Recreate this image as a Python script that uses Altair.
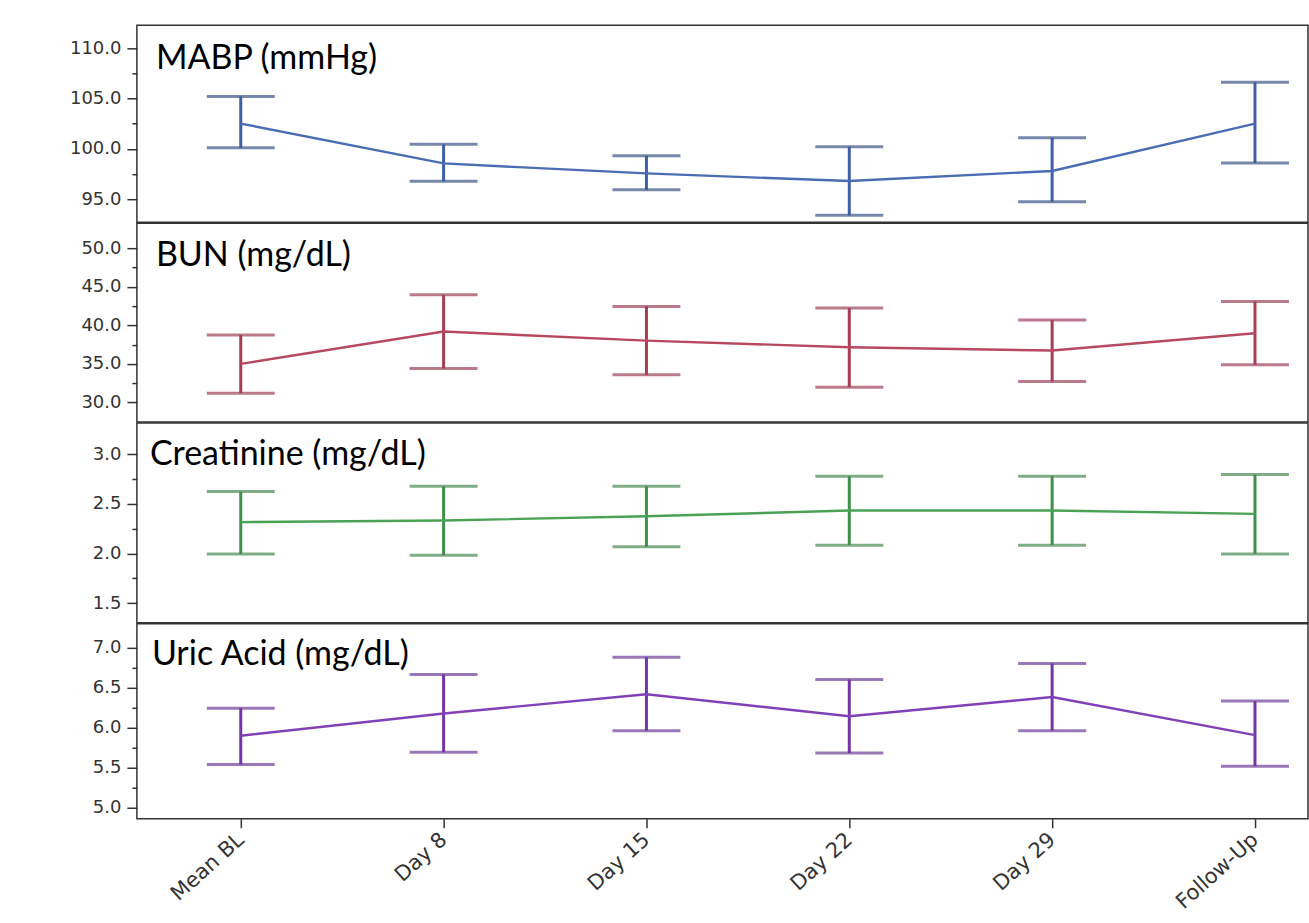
import json
import altair as alt
import pandas as pd

categories = ["Mean BL", "Day 8", "Day 15", "Day 22", "Day 29", "Follow-Up"]

mabp_mean = [102.5, 98.55, 97.56, 96.8, 97.8, 102.5]
mabp_lo = [100.1, 96.77, 95.94, 93.4, 94.75, 98.6]
mabp_hi = [105.2, 100.44, 99.3, 100.2, 101.1, 106.6]

bun_mean = [35.0, 39.19, 38.02, 37.15, 36.73, 38.97]
bun_lo = [31.2, 34.4, 33.58, 31.98, 32.72, 34.88]
bun_hi = [38.76, 43.97, 42.46, 42.25, 40.70, 43.1]

creat_mean = [2.316, 2.333, 2.376, 2.433, 2.433, 2.40]
creat_lo = [1.995, 1.983, 2.067, 2.084, 2.084, 1.996]
creat_hi = [2.625, 2.678, 2.678, 2.78, 2.78, 2.796]

uric_mean = [5.897, 6.174, 6.415, 6.14, 6.38, 5.905]
uric_lo = [5.537, 5.69, 5.96, 5.68, 5.96, 5.515]
uric_hi = [6.24, 6.663, 6.878, 6.60, 6.80, 6.33]

mabp_ticks = [95, 97.5, 100, 102.5, 105, 107.5, 110]
bun_ticks = [30, 32.5, 35, 37.5, 40, 42.5, 45, 47.5, 50]
creat_ticks = [1.5, 1.75, 2.0, 2.25, 2.5, 2.75, 3.0]
uric_ticks = [5.0, 5.25, 5.5, 5.75, 6.0, 6.25, 6.5, 6.75, 7.0]

W = 1172
X_DOMAIN = [-0.512, -0.512 + W / 203.0]
AXIS_COLOR = "#333333"
LABEL_FONT = "DejaVu Sans"


def make_panel(title, mean, lo, hi, domain, ticks, major, colors, height,
               show_x, tx, ty):
    df = pd.DataFrame({
        "cat": categories,
        "idx": list(range(len(categories))),
        "mean": mean,
        "lo": lo,
        "hi": hi,
    })
    if show_x:
        xaxis = alt.Axis(
            values=list(range(len(categories))),
            labelExpr=json.dumps(categories) + "[datum.value]",
            tickSize=9, tickWidth=1.5, tickColor=AXIS_COLOR, domain=False,
            grid=False, labelAngle=-42, labelAlign="right",
            labelBaseline="middle", labelPadding=9, labelFont=LABEL_FONT,
            labelFontSize=21, labelColor=AXIS_COLOR, labelOverlap=False,
            labelFlush=False, title=None,
        )
    else:
        xaxis = None
    xenc = alt.X("idx:Q", scale=alt.Scale(domain=X_DOMAIN, nice=False, zero=False),
                 axis=xaxis, title=None)
    test = f"abs(datum.value/{major} - round(datum.value/{major})) < 1e-6"
    yaxis = alt.Axis(
        values=ticks,
        labelExpr=f"{test} ? format(datum.value, '.1f') : ''",
        tickSize={"condition": {"test": test, "value": 10}, "value": 5},
        tickWidth=1.5, tickColor=AXIS_COLOR, domain=False, grid=False,
        labelPadding=6, labelFont=LABEL_FONT, labelFontSize=18,
        labelColor=AXIS_COLOR, labelOverlap=False, labelFlush=False,
        title=None,
    )
    yscale = alt.Scale(domain=domain, nice=False, zero=False)
    c_line, c_bar, c_cap = colors
    base = alt.Chart(df)
    bars = base.mark_rule(color=c_bar, strokeWidth=3).encode(
        x=xenc, y=alt.Y("lo:Q", scale=yscale, axis=yaxis, title=None), y2="hi:Q")
    cap_lo = base.mark_tick(color=c_cap, orient="horizontal", size=68, thickness=3).encode(
        x=xenc, y=alt.Y("lo:Q", scale=yscale, axis=yaxis, title=None))
    cap_hi = base.mark_tick(color=c_cap, orient="horizontal", size=68, thickness=3).encode(
        x=xenc, y=alt.Y("hi:Q", scale=yscale, axis=yaxis, title=None))
    line = base.mark_line(color=c_line, strokeWidth=2.4).encode(
        x=xenc, y=alt.Y("mean:Q", scale=yscale, axis=yaxis, title=None))
    text = alt.Chart(pd.DataFrame({"t": [title]})).mark_text(
        align="left", baseline="alphabetic", font="Lato", fontSize=34, color="black"
    ).encode(x=alt.value(tx), y=alt.value(ty), text="t:N")
    return alt.layer(bars, cap_lo, cap_hi, line, text).properties(width=W, height=height)


p1 = make_panel("MABP (mmHg)", mabp_mean, mabp_lo, mabp_hi, [92.72, 112.25],
                mabp_ticks, 5, ("#4a6cb3", "#3f5fa8", "#3f5688"), 197, False, 19, 44)
p2 = make_panel("BUN (mg/dL)", bun_mean, bun_lo, bun_hi, [27.45, 53.26],
                bun_ticks, 5, ("#b8485f", "#a83c55", "#9c4258"), 199, False, 19, 43)
p3 = make_panel("Creatinine (mg/dL)", creat_mean, creat_lo, creat_hi, [1.30, 3.316],
                creat_ticks, 0.5, ("#4aa255", "#3f9048", "#4a8a55"), 200, False, 13, 42)
p4 = make_panel("Uric Acid (mg/dL)", uric_mean, uric_lo, uric_hi, [4.86, 7.294],
                uric_ticks, 0.5, ("#8040b8", "#7535a8", "#6c3f98"), 195, True, 15, 41)

chart = alt.vconcat(p1, p2, p3, p4, spacing=-1.5).properties(
    padding={"left": 68, "top": 24, "right": 0, "bottom": 0},
    background="white",
).configure_view(stroke=AXIS_COLOR, strokeWidth=1.5)

chart.save("out.html", embed_options={"renderer": "svg", "actions": False})
